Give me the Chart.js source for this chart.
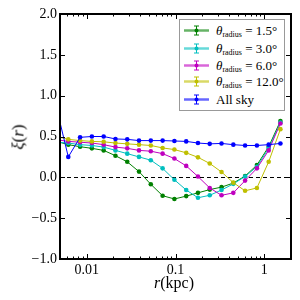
<!DOCTYPE html>
<html><head><meta charset="utf-8">
<script src="https://cdn.jsdelivr.net/npm/chart.js@4/dist/chart.umd.min.js"></script>
<style>
html,body{margin:0;padding:0;background:#fff;}
#wrap{position:relative;width:300px;height:300px;overflow:hidden;}
canvas{position:absolute;left:0;top:0;}
.t{position:absolute;font-family:"Liberation Serif",serif;color:#000;white-space:nowrap;line-height:1;}
#legend{position:absolute;left:179px;top:19px;width:106px;height:92px;border:1px solid #999;background:#fff;box-sizing:border-box;}
.row{position:absolute;left:0;height:17px;width:100%;}
.row svg{position:absolute;left:3px;top:0;}
.lab{position:absolute;left:36px;top:0;font-family:"Liberation Serif",serif;font-size:13px;line-height:17px;white-space:nowrap;}
.lab sub{font-size:8px;vertical-align:-2px;line-height:0;}
</style></head>
<body><div id="wrap"><canvas id="c" width="300" height="300"></canvas>
<div class="t" id="ytitle" style="font-size:17px;left:17.5px;top:137px;transform:translate(-50%,-50%) rotate(-90deg);"><i>ξ</i>(<i>r</i>)</div>
<div class="t" id="xtitle" style="font-size:16px;left:174px;top:283px;transform:translate(-50%,-50%);"><i>r</i>(kpc)</div>
<div id="legend"></div>
</div>
<script>
// ---- data ----
const rKpc = [0.00457,0.0062,0.00842,0.01143,0.01552,0.02107,0.0286,0.0388,0.0527,0.0716,0.0972,0.132,0.179,0.243,0.330,0.448,0.608,0.826,1.121,1.52];
const xi15  = [0.44,0.40,0.375,0.355,0.33,0.265,0.19,0.07,-0.085,-0.225,-0.265,-0.23,-0.19,-0.15,-0.12,-0.07,0.015,0.15,0.375,0.69];
const xi30  = [0.43,0.42,0.40,0.39,0.37,0.33,0.29,0.25,0.21,0.11,-0.03,-0.155,-0.25,-0.22,-0.155,-0.08,0.01,0.13,0.355,0.67];
const xi60  = [0.46,0.44,0.43,0.42,0.40,0.37,0.355,0.33,0.32,0.29,0.23,0.14,0.01,-0.13,-0.22,-0.19,-0.04,0.11,0.33,0.66];
const xi120 = [0.50,0.465,0.45,0.44,0.435,0.42,0.41,0.40,0.39,0.36,0.34,0.30,0.245,0.17,0.065,-0.065,-0.165,-0.13,0.19,0.59];
const xiAll = [0.85,0.25,0.49,0.50,0.50,0.47,0.465,0.45,0.45,0.45,0.445,0.44,0.42,0.41,0.415,0.40,0.39,0.39,0.40,0.415];
const seriesNames = ["1.5°","3.0°","6.0°","12.0°","All sky"];
const seriesColors = ["#008000","#00bfbf","#bf00bf","#bfbf00","#0000ff"];
const yTicks = [-1.0,-0.5,0.0,0.5,1.0,1.5,2.0];
const xTicks = [0.01,0.1,1];

const allSeries = [xi15,xi30,xi60,xi120,xiAll];

const framePlugin = {
  id:'frame',
  beforeDatasetsDraw(chart){
    const {ctx, chartArea:a, scales:{y}} = chart;
    ctx.save();
    const y0 = y.getPixelForValue(0);
    ctx.setLineDash([4,3]); ctx.lineWidth=1; ctx.strokeStyle='#000';
    ctx.beginPath(); ctx.moveTo(a.left,Math.round(y0)+0.5); ctx.lineTo(a.right,Math.round(y0)+0.5); ctx.stroke();
    ctx.restore();
  },
  afterDraw(chart){
    const {ctx, chartArea:a, scales:{x,y}} = chart;
    ctx.save();
    ctx.strokeStyle='#000'; ctx.setLineDash([]);
    ctx.lineWidth=1;
    // y major ticks, both sides
    yTicks.forEach(v=>{
      const p=Math.round(y.getPixelForValue(v))+0.5;
      ctx.beginPath(); ctx.moveTo(a.left,p); ctx.lineTo(a.left+5,p);
      ctx.moveTo(a.right,p); ctx.lineTo(a.right-5,p); ctx.stroke();
    });
    // x ticks (log), top and bottom
    const minor=[];
    [0.001,0.01,0.1,1].forEach(d=>{for(let k=2;k<=9;k++){const v=k*d; if(v>=0.005&&v<=2) minor.push(v);}});
    minor.forEach(v=>{
      const p=Math.round(x.getPixelForValue(v))+0.5;
      ctx.beginPath(); ctx.moveTo(p,a.bottom); ctx.lineTo(p,a.bottom-2.5);
      ctx.moveTo(p,a.top); ctx.lineTo(p,a.top+2.5); ctx.stroke();
    });
    xTicks.forEach(v=>{
      const p=Math.round(x.getPixelForValue(v))+0.5;
      ctx.beginPath(); ctx.moveTo(p,a.bottom); ctx.lineTo(p,a.bottom-5);
      ctx.moveTo(p,a.top); ctx.lineTo(p,a.top+5); ctx.stroke();
    });
    ctx.lineWidth=2;
    ctx.strokeRect(a.left,a.top,a.right-a.left,a.bottom-a.top);
    ctx.restore();
  }
};

const datasets = allSeries.map((s,i)=>({
  label: seriesNames[i],
  data: rKpc.map((r,j)=>({x:r,y:s[j]})),
  borderColor: seriesColors[i],
  backgroundColor: seriesColors[i],
  borderWidth: 1,
  pointRadius: 2.3,
  pointBorderWidth: 0,
  pointHoverRadius: 0,
  tension: 0,
  order: 5-i
}));

new Chart(document.getElementById('c').getContext('2d'), {
  type:'line',
  data:{datasets},
  options:{
    responsive:false, animation:false, devicePixelRatio:1,
    layout:{padding:{left:0,right:9,top:14,bottom:0}},
    plugins:{legend:{display:false},tooltip:{enabled:false}},
    scales:{
      x:{type:'logarithmic',min:0.005,max:2,
        grid:{display:false,drawTicks:false},border:{display:false},
        afterFit(s){s.height=41;},
        afterBuildTicks(s){s.ticks=xTicks.map(v=>({value:v}));},
        ticks:{callback:v=>String(v),font:{family:'Liberation Serif',size:14},color:'#000',padding:3,maxRotation:0,autoSkip:false}},
      y:{min:-1,max:2,
        grid:{display:false,drawTicks:false},border:{display:false},
        afterFit(s){s.width=60;},
        afterBuildTicks(s){s.ticks=yTicks.map(v=>({value:v}));},
        ticks:{callback:v=>(v<0?'\u2212':'')+Math.abs(v).toFixed(1),font:{family:'Liberation Serif',size:14},color:'#000',padding:3}}
    }
  },
  plugins:[framePlugin]
});

// legend
const leg=document.getElementById('legend');
const rowTops=[2,19.5,36.5,53,71];
seriesNames.forEach((n,i)=>{
  const c=seriesColors[i];
  const row=document.createElement('div'); row.className='row'; row.style.top=rowTops[i]+'px';
  row.innerHTML='<svg width="28" height="17"><line x1="1" y1="8.5" x2="26" y2="8.5" stroke="'+c+'" stroke-opacity="0.6" stroke-width="2.5"/>'+
    '<line x1="13.5" y1="4" x2="13.5" y2="13" stroke="'+c+'" stroke-width="1"/>'+
    '<line x1="11" y1="4" x2="16" y2="4" stroke="'+c+'" stroke-width="1"/>'+
    '<line x1="11" y1="13" x2="16" y2="13" stroke="'+c+'" stroke-width="1"/>'+
    '<circle cx="13.5" cy="8.5" r="2" fill="'+c+'"/></svg>'+
    '<span class="lab">'+(i<4?'<i>θ</i><sub>radius</sub> = '+n:n)+'</span>';
  leg.appendChild(row);
});
</script>
</body></html>
